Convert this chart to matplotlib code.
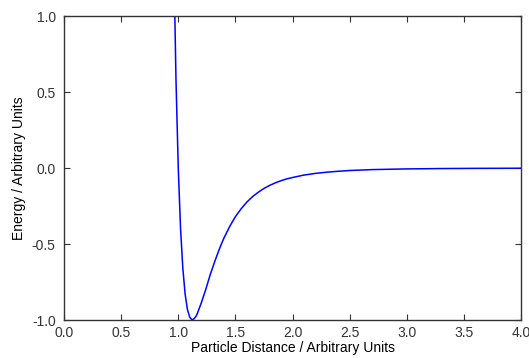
import matplotlib
matplotlib.use("Agg")
import matplotlib.pyplot as plt

# Values (energy vs. particle distance).
distance = [0.96, 0.98, 1.00, 1.02, 1.04, 1.06, 1.08, 1.10, 1.12, 1.14,
            1.16, 1.18, 1.20, 1.22, 1.24, 1.26, 1.28, 1.30, 1.32, 1.34,
            1.36, 1.38, 1.40, 1.45, 1.50, 1.55, 1.60, 1.65, 1.70, 1.75,
            1.80, 1.85, 1.90, 1.95, 2.00, 2.10, 2.20, 2.30, 2.40, 2.50,
            2.70, 3.00, 3.30, 3.60, 4.00]
energy = [1.42, 0.58, 0.00, -0.40, -0.66, -0.83, -0.93, -0.98, -1.00, -0.99,
          -0.97, -0.93, -0.89, -0.845, -0.80, -0.75, -0.70, -0.657, -0.613, -0.572,
          -0.532, -0.495, -0.460, -0.384, -0.320, -0.268, -0.224, -0.188, -0.159, -0.134,
          -0.114, -0.097, -0.083, -0.071, -0.062, -0.046, -0.035, -0.027, -0.021, -0.016,
          -0.010, -0.0055, -0.0031, -0.0018, -0.001]

x_ticks = [0.0, 0.5, 1.0, 1.5, 2.0, 2.5, 3.0, 3.5, 4.0]
y_ticks = [-1.0, -0.5, 0.0, 0.5, 1.0]

plt.rcParams["font.family"] = ["Liberation Sans", "DejaVu Sans"]

fig = plt.figure(figsize=(5.29, 3.58), dpi=100)
ax = fig.add_axes([0.121, 0.106, 0.864, 0.849])
ax.plot(distance, energy, color="#0000ff", linewidth=1.1)

ax.set_xlim(0.0, 4.0)
ax.set_ylim(-1.0, 1.0)
ax.set_xticks(x_ticks)
ax.set_yticks(y_ticks)
ax.set_xticklabels([f"{t:.1f}" for t in x_ticks])
ax.set_yticklabels([f"{t:.1f}" for t in y_ticks])
ax.tick_params(direction="in", top=True, right=True, length=4, labelsize=10,
               colors="#333333")
ax.tick_params(axis="x", pad=4)
ax.tick_params(axis="y", pad=6)
for s in ax.spines.values():
    s.set_color("#333333")
    s.set_linewidth(1.0)

ax.set_xlabel("Particle Distance / Arbitrary Units", fontsize=10, labelpad=1)
ax.set_ylabel("Energy / Arbitrary Units", fontsize=10, labelpad=4)

fig.savefig("out.png", dpi=100)
